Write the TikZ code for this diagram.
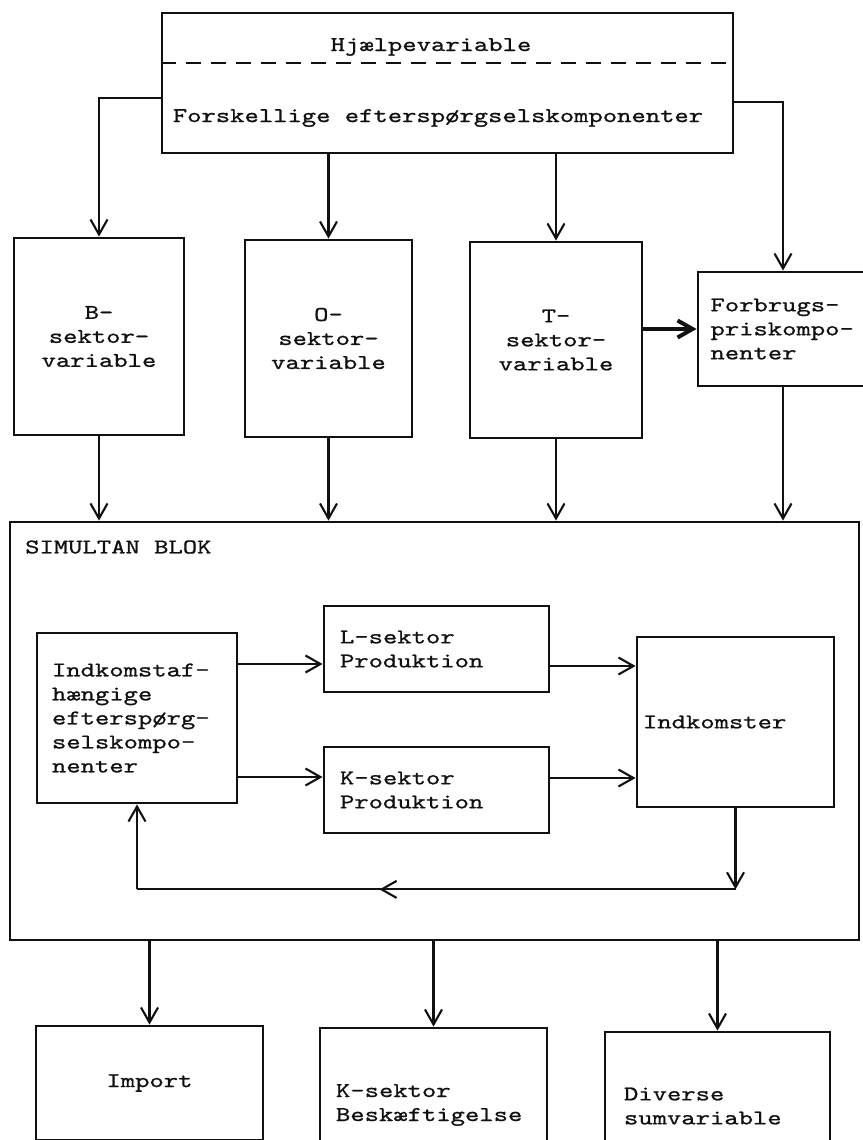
\documentclass[tikz,border=0pt]{standalone}
\usepackage{fontspec}
\usepackage{tikz}
\usetikzlibrary{arrows.meta}
\newfontfamily\maquina[FakeStretch=1.3,FakeBold=0.9]{lmmono10-regular.otf}
\definecolor{tinta}{HTML}{111111}
\tikzset{
  caja/.style={draw=tinta,line width=2.8pt,inner sep=0pt,font=\maquina\fontsize{21}{24}\selectfont,text=tinta},
  cajacen/.style={caja,align=center},
  cajaizq/.style={caja,align=left},
  texto/.style={inner sep=0pt,font=\maquina\fontsize{21}{24}\selectfont,text=tinta},
  linea/.style={draw=tinta,line width=2.1pt},
  flecha/.style={linea,-{Straight Barb[length=15pt,width=17pt]}},
  flechagruesa/.style={flecha,line width=4pt},
  separador/.style={draw=tinta,line width=2.6pt,dash pattern=on 15pt off 10pt},
}
\begin{document}
\begin{tikzpicture}[x=1pt,y=-1pt]
\useasboundingbox (0,0) rectangle (862,1140);
\coordinate (c1) at (447.5,83);
\coordinate (c2) at (99,336.5);
\coordinate (c3) at (328.5,338.5);
\coordinate (c4) at (556,340);
\coordinate (c5) at (783,329);
\coordinate (c6) at (434.5,731);
\coordinate (c7) at (137,718);
\coordinate (c8) at (436.5,649);
\coordinate (c9) at (436.5,790);
\coordinate (c10) at (735.5,722);
\coordinate (c11) at (149.5,1083);
\coordinate (c12) at (433.5,1105);
\coordinate (c13) at (717.5,1106);
% bloque superior con la linea punteada
\node[caja,minimum width=571pt,minimum height=140pt] (aux) at (c1) {};
\draw[separador] ([yshift=20pt]aux.west) -- ([yshift=20pt]aux.east);
\node[texto] (thjaelp) at (431,47) {Hjælpevariable};
\node[texto] (tkomp) at (438,118) {Forskellige efterspørgselskomponenter};
% sectores
\node[cajacen,minimum width=170pt,minimum height=197pt] (bsec) at (c2) {B-\\sektor-\\variable};
\node[cajacen,minimum width=167pt,minimum height=197pt] (osec) at (c3) {O-\\sektor-\\variable};
\node[cajacen,minimum width=172pt,minimum height=196pt] (tsec) at (c4) {T-\\sektor-\\variable};
\node[cajaizq,text width=145pt,minimum width=170pt,minimum height=114pt] (precios) at (c5) {Forbrugs-\\priskompo-\\nenter};
% bloque simultaneo
\node[caja,minimum width=849pt,minimum height=418pt] (bloque) at (c6) {};
\node[texto,anchor=west] (tbloque) at (25,547) {SIMULTAN BLOK};
\node[cajaizq,text width=170pt,minimum width=200pt,minimum height=170pt] (demanda) at (c7) {Indkomstaf-\\hængige\\efterspørg-\\selskompo-\\nenter};
\node[cajaizq,text width=193pt,minimum width=225pt,minimum height=86pt] (lprod) at (c8) {L-sektor\\Produktion};
\node[cajaizq,text width=193pt,minimum width=225pt,minimum height=86pt] (kprod) at (c9) {K-sektor\\Produktion};
\node[cajaizq,text width=185pt,minimum width=197pt,minimum height=170pt] (ingresos) at (c10) {Indkomster};
% resultados
\node[cajacen,minimum width=227pt,minimum height=114pt] (importacion) at (c11) {Import};
\node[cajaizq,text width=195pt,minimum width=227pt,minimum height=154pt] (kempleo) at (c12) {K-sektor\\Beskæftigelse};
\node[cajaizq,text width=187pt,minimum width=225pt,minimum height=148pt] (diversos) at (c13) {Diverse\\sumvariable};
% flechas de arriba
\draw[flecha] ([yshift=-15pt]aux.west) -| (bsec.north);
\draw[flecha] (aux.south -| osec.north) -- (osec.north);
\draw[flecha] (aux.south -| tsec.north) -- (tsec.north);
\draw[flecha] ([yshift=-19pt]aux.east) -| (precios.north);
\draw[flechagruesa] (tsec.east |- precios.west) -- (precios.west);
\draw[flecha] (bsec.south) -- (bsec.south |- bloque.north);
\draw[flecha] (osec.south) -- (osec.south |- bloque.north);
\draw[flecha] (tsec.south) -- (tsec.south |- bloque.north);
\draw[flecha] (precios.south) -- (precios.south |- bloque.north);
% dentro del bloque
\coordinate (lent) at ([yshift=-15pt]lprod.west);
\coordinate (lsal) at ([yshift=-17pt]lprod.east);
\coordinate (kent) at ([yshift=13pt]kprod.west);
\coordinate (ksal) at ([yshift=12pt]kprod.east);
\draw[flecha] (demanda.east |- lent) -- (lent);
\draw[flecha] (lsal) -- (lsal -| ingresos.west);
\draw[flecha] (demanda.east |- kent) -- (kent);
\draw[flecha] (ksal) -- (ksal -| ingresos.west);
\coordinate (retorno) at ([yshift=-81pt]ingresos.south);
\draw[flecha] (ingresos.south) -- (retorno);
\draw[linea] (retorno) -- (retorno -| demanda.south);
\draw[flecha] (retorno) -- +(-356,0);
\draw[flecha] (retorno -| demanda.south) -- (demanda.south);
% flechas de abajo
\draw[flecha] (importacion.north |- bloque.south) -- (importacion.north);
\draw[flecha] (kempleo.north |- bloque.south) -- (kempleo.north);
\draw[flecha] (diversos.north |- bloque.south) -- (diversos.north);
\end{tikzpicture}
\end{document}
